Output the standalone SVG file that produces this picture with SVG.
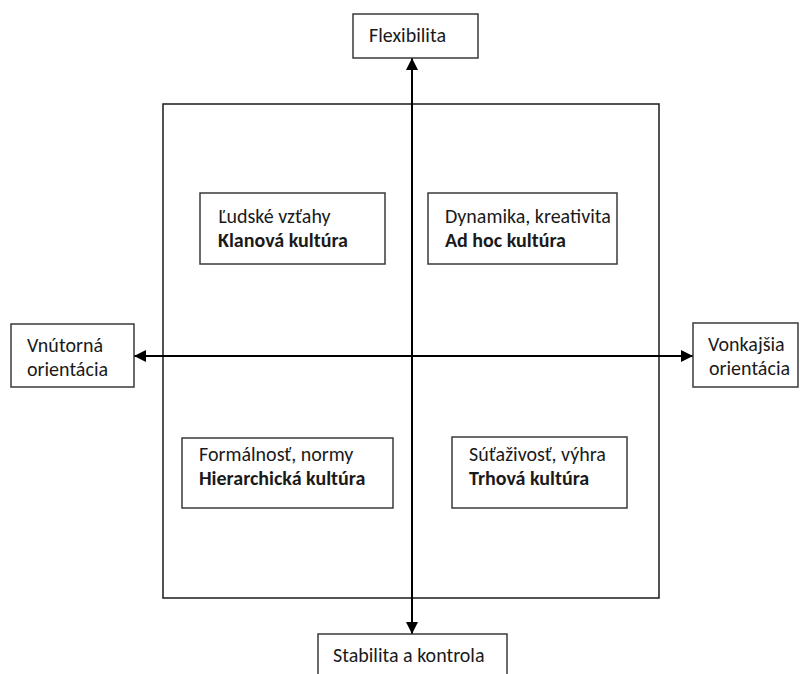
<svg xmlns="http://www.w3.org/2000/svg" width="800" height="674" viewBox="0 0 800 674">
<style>
.box{fill:#fff;stroke:#3a3a3a;stroke-width:1.5}
.frame{fill:none;stroke:#1a1a1a;stroke-width:1.5}
.t{font-family:Carlito,Calibri,Lato,"Liberation Sans",sans-serif;font-size:20px;fill:#1a1a1a}
.b{font-weight:bold}
.ax{stroke:#000;stroke-width:2;fill:none}
</style>
<defs>
<marker id="ah" viewBox="0 0 10 10" refX="10" refY="5" markerWidth="6" markerHeight="6" orient="auto-start-reverse" markerUnits="strokeWidth">
<path d="M0,0 L10,5 L0,10 z" fill="#000"/>
</marker>
</defs>
<rect id="frame" class="frame" x="163" y="104" width="496" height="494"/>
<g id="connectors">
<line class="ax" x1="412" y1="58" x2="412" y2="634" marker-start="url(#ah)" marker-end="url(#ah)"/>
<line class="ax" x1="134" y1="356" x2="693" y2="356" marker-start="url(#ah)" marker-end="url(#ah)"/>
</g>
<g id="flexibilita">
<rect class="box" x="353" y="14" width="125" height="44"/>
<text class="t" x="369" y="42">Flexibilita</text>
</g>
<g id="stabilita">
<rect class="box" x="318" y="634" width="189" height="50"/>
<text class="t" x="333" y="662">Stabilita a kontrola</text>
</g>
<g id="vnutorna">
<rect class="box" x="11" y="324" width="123" height="63"/>
<text class="t" x="27" y="352">Vnútorná</text>
<text class="t" x="27" y="376">orientácia</text>
</g>
<g id="vonkajsia">
<rect class="box" x="693" y="323" width="105" height="64"/>
<text class="t" x="708" y="351">Vonkajšia</text>
<text class="t" x="709" y="375">orientácia</text>
</g>
<g id="klanova">
<rect class="box" x="200" y="193" width="185" height="71"/>
<text class="t" x="218" y="223">Ľudské vzťahy</text>
<text class="t" x="218" y="247"><tspan class="b">Klanová kultúra</tspan></text>
</g>
<g id="adhoc">
<rect class="box" x="428" y="193" width="189" height="71"/>
<text class="t" x="445" y="223">Dynamika, kreativita</text>
<text class="t" x="445" y="247"><tspan class="b">Ad hoc kultúra</tspan></text>
</g>
<g id="hierarchicka">
<rect class="box" x="182" y="438" width="211" height="70"/>
<text class="t" x="199" y="461">Formálnosť, normy</text>
<text class="t" x="199" y="485"><tspan class="b">Hierarchická kultúra</tspan></text>
</g>
<g id="trhova">
<rect class="box" x="452" y="437" width="175" height="71"/>
<text class="t" x="469" y="461">Súťaživosť, výhra</text>
<text class="t" x="469" y="485"><tspan class="b">Trhová kultúra</tspan></text>
</g>
</svg>
